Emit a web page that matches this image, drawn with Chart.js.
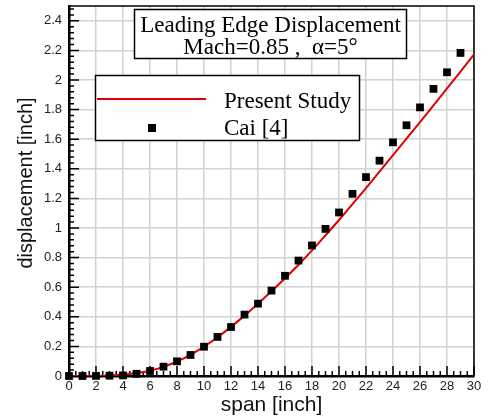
<!DOCTYPE html>
<html>
<head>
<meta charset="utf-8">
<script src="https://cdn.jsdelivr.net/npm/chart.js@4.4.0/dist/chart.umd.min.js"></script>
<style>
  html, body { margin: 0; padding: 0; background: #fff; }
  #wrap { width: 490px; height: 420px; }
</style>
</head>
<body>
<div id="wrap"><canvas id="dispChart" width="490" height="420"></canvas></div>
<script>
// ---------------------------------------------
// Leading edge displacement along the span
// ---------------------------------------------

// present study, one station per inch
const studySpan = [0, 1, 2, 3, 4, 5, 6, 7, 8, 9, 10, 11, 12, 13, 14, 15,
  16, 17, 18, 19, 20, 21, 22, 23, 24, 25, 26, 27, 28, 29, 30];
const studyDisp = [0, 0, 0.001, 0.004, 0.01, 0.02, 0.036, 0.062, 0.098, 0.143, 0.198,
  0.262, 0.332, 0.408, 0.488, 0.572, 0.66, 0.752, 0.849, 0.95, 1.054,
  1.161, 1.27, 1.381, 1.492, 1.604, 1.716, 1.829, 1.943, 2.057, 2.172];

// Cai [4]
const caiSpan = [0, 1, 2, 3, 4, 5, 6, 7, 8, 9, 10, 11, 12, 13, 14, 15,
  16, 17, 18, 19, 20, 21, 22, 23, 24, 25, 26, 27, 28, 29];
const caiDisp = [0, 0, 0.001, 0.002, 0.004, 0.015, 0.034, 0.063, 0.099, 0.142, 0.198,
  0.264, 0.331, 0.415, 0.489, 0.577, 0.677, 0.78, 0.882, 0.994, 1.105,
  1.231, 1.344, 1.455, 1.579, 1.694, 1.815, 1.94, 2.052, 2.183];

const xTickValues = [0, 2, 4, 6, 8, 10, 12, 14, 16, 18, 20, 22, 24, 26, 28, 30];
const yTickValues = [0, 0.2, 0.4, 0.6, 0.8, 1, 1.2, 1.4, 1.6, 1.8, 2, 2.2, 2.4];

const titleLines = ['Leading Edge Displacement', 'Mach=0.85 ,  \u03b1=5\u00b0'];
const seriesNames = ['Present Study', 'Cai [4]'];
const yAxisLabel = 'displacement [inch]';

const SANS = '"Liberation Sans", Arial, sans-serif';
const SERIF = '"Liberation Serif", "Times New Roman", serif';
const RED = '#e00000';

const toPoints = (xs, ys) => xs.map((x, i) => ({ x, y: ys[i] }));

// inward major/minor tick marks plus the top/right frame
const frameTicks = {
  id: 'frameTicks',
  beforeDatasetsDraw(chart) {
    const { ctx, chartArea: a, scales: { x, y } } = chart;
    ctx.save();
    ctx.strokeStyle = '#000';
    ctx.lineWidth = 1.5;
    ctx.beginPath();
    ctx.moveTo(a.left, a.top);
    ctx.lineTo(a.right, a.top);
    ctx.lineTo(a.right, a.bottom);
    ctx.stroke();

    ctx.beginPath();
    // x: minor every 0.5, major every 2
    for (let i = 0; i * 0.5 <= x.max + 1e-9; i++) {
      const px = x.getPixelForValue(i * 0.5);
      const len = i % 4 === 0 ? 10 : 5;
      ctx.moveTo(px, a.bottom);
      ctx.lineTo(px, a.bottom - len);
    }
    // y: minor every 0.04, major every 0.2
    for (let i = 0; i * 0.04 <= y.max + 1e-9; i++) {
      const py = y.getPixelForValue(i * 0.04);
      const len = i % 5 === 0 ? 10 : 5;
      ctx.moveTo(a.left, py);
      ctx.lineTo(a.left + len, py);
    }
    ctx.stroke();

    // y axis title, sits a bit above the middle of the axis
    ctx.translate(26, 183);
    ctx.rotate(-Math.PI / 2);
    ctx.fillStyle = '#111';
    ctx.font = '20px ' + SANS;
    ctx.textAlign = 'center';
    ctx.textBaseline = 'middle';
    ctx.fillText(yAxisLabel, 0, 0);
    ctx.restore();
  }
};

function drawBox(ctx, x, y, w, h) {
  ctx.fillStyle = '#fff';
  ctx.fillRect(x, y, w, h);
  ctx.strokeStyle = '#000';
  ctx.lineWidth = 1.5;
  ctx.strokeRect(x, y, w, h);
}

// title box and legend box inside the plot
const insetBoxes = {
  id: 'insetBoxes',
  afterDatasetsDraw(chart) {
    const { ctx } = chart;
    const caiDs = chart.data.datasets[0];
    const lineDs = chart.data.datasets[1];
    ctx.save();

    drawBox(ctx, 134.5, 9.5, 272, 49);
    ctx.fillStyle = '#000';
    ctx.font = '23px ' + SERIF;
    ctx.textAlign = 'center';
    ctx.textBaseline = 'alphabetic';
    ctx.fillText(titleLines[0], 270.5, 31.5);
    ctx.fillText(titleLines[1], 270.5, 54);

    drawBox(ctx, 95.5, 75.5, 264, 65);
    ctx.strokeStyle = lineDs.borderColor;
    ctx.lineWidth = lineDs.borderWidth;
    ctx.beginPath();
    ctx.moveTo(97, 99);
    ctx.lineTo(206, 99);
    ctx.stroke();
    ctx.fillStyle = caiDs.backgroundColor;
    ctx.fillRect(148, 124, 8, 8);

    ctx.fillStyle = '#000';
    ctx.textAlign = 'left';
    ctx.fillText(seriesNames[0], 224, 107.5);
    ctx.fillText(seriesNames[1], 224, 134.5);
    ctx.restore();
  }
};

const chart = new Chart(document.getElementById('dispChart'), {
  type: 'scatter',
  data: {
    datasets: [
      {
        label: seriesNames[1],
        data: toPoints(caiSpan, caiDisp),
        pointStyle: 'rect',
        pointRadius: 5.5,
        borderWidth: 0,
        backgroundColor: '#000',
        borderColor: '#000',
        clip: false
      },
      {
        label: seriesNames[0],
        data: toPoints(studySpan, studyDisp),
        showLine: true,
        pointRadius: 0,
        borderColor: RED,
        borderWidth: 2,
        cubicInterpolationMode: 'monotone',
        fill: false
      }
    ]
  },
  options: {
    responsive: false,
    animation: false,
    devicePixelRatio: 1,
    layout: { padding: { top: 6, right: 16, left: 0, bottom: 0 } },
    plugins: { legend: { display: false }, tooltip: { enabled: false } },
    scales: {
      x: {
        type: 'linear',
        min: 0,
        max: 30,
        afterBuildTicks: s => { s.ticks = xTickValues.map(v => ({ value: v })); },
        afterFit: s => { s.height = 44; s.paddingLeft = 0; s.paddingRight = 0; },
        grid: { color: '#d2d2d2', lineWidth: 1.5, drawTicks: false },
        border: { color: '#000', width: 2.5 },
        ticks: {
          color: '#222',
          font: { family: SANS, size: 13 },
          padding: 3,
          maxRotation: 0,
          autoSkip: false,
          callback: v => String(v)
        },
        title: {
          display: true,
          text: 'span [inch]',
          color: '#111',
          font: { family: SANS, size: 21 },
          padding: { top: 0, bottom: 2 }
        }
      },
      y: {
        type: 'linear',
        min: 0,
        max: 2.5,
        afterBuildTicks: s => { s.ticks = yTickValues.map(v => ({ value: v })); },
        afterFit: s => { s.width = 69; s.paddingTop = 0; s.paddingBottom = 0; },
        grid: { color: '#d2d2d2', lineWidth: 1.5, drawTicks: false },
        border: { color: '#000', width: 2.5 },
        ticks: {
          color: '#222',
          font: { family: SANS, size: 13 },
          padding: 7,
          autoSkip: false,
          callback: v => String(+v.toFixed(1))
        }
      }
    }
  },
  plugins: [frameTicks, insetBoxes]
});
</script>
</body>
</html>
